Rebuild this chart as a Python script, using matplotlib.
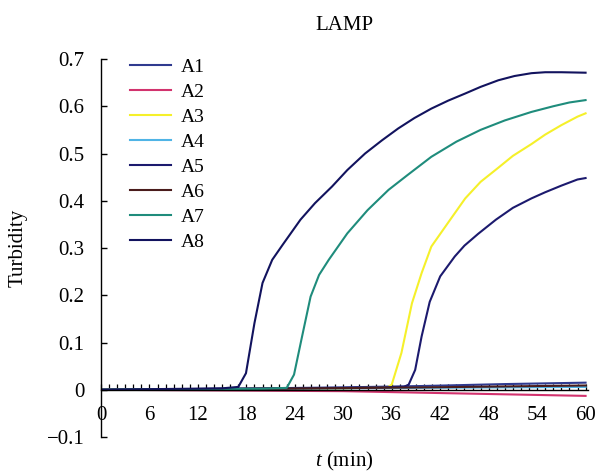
import matplotlib
matplotlib.use("Agg")
import matplotlib.pyplot as plt
from matplotlib.ticker import MultipleLocator

plt.rcParams["font.family"] = ["Liberation Serif", "DejaVu Serif"]
plt.rcParams["mathtext.fontset"] = "custom"
plt.rcParams["mathtext.it"] = "Liberation Serif:italic"
plt.rcParams["mathtext.rm"] = "Liberation Serif"

# Turbidity readings, time in minutes
t_a1 = [0, 10, 20, 30, 40, 50, 60]
y_a1 = [0.0, 0.001, 0.003, 0.005, 0.008, 0.012, 0.015]

t_a2 = [0, 20, 30, 36, 42, 48, 54, 60]
y_a2 = [0.0, -0.002, -0.003, -0.005, -0.007, -0.009, -0.011, -0.013]

t_a3 = [0, 30, 35.5, 36.0, 37.2, 38.5, 39.7, 40.9, 43.2, 45.1, 47, 49.2, 51, 53.3, 55, 57, 59, 60]
y_a3 = [0.0, 0.003, 0.005, 0.011, 0.078, 0.183, 0.247, 0.303, 0.359, 0.405, 0.44, 0.47, 0.495, 0.52, 0.54, 0.56, 0.578, 0.585]

t_a4 = [0, 20, 40, 60]
y_a4 = [0.0, 0.002, 0.004, 0.006]

t_a5 = [0, 30, 37.5, 38.1, 38.9, 39.7, 40.7, 42.0, 43.8, 45, 46.7, 48.9, 51, 53.3, 55, 57, 59, 60]
y_a5 = [0.0, 0.004, 0.006, 0.011, 0.042, 0.113, 0.186, 0.24, 0.282, 0.305, 0.33, 0.36, 0.385, 0.405, 0.418, 0.432, 0.445, 0.448]

t_a6 = [0, 20, 40, 60]
y_a6 = [0.0, 0.002, 0.005, 0.009]

t_a7 = [0, 20, 23.0, 23.9, 24.9, 25.95, 27.0, 28.2, 30.5, 33, 35.6, 38, 40.9, 44, 47, 50, 53.3, 56, 58, 60]
y_a7 = [0.0, 0.002, 0.004, 0.032, 0.113, 0.197, 0.243, 0.275, 0.331, 0.38, 0.423, 0.455, 0.493, 0.525, 0.55, 0.57, 0.588, 0.6, 0.608, 0.613]

t_a8 = [0, 15, 17.0, 17.95, 19.0, 20.0, 21.2, 22.5, 24.7, 26.5, 28.6, 30.5, 32.7, 34.8, 36.8, 38.8, 40.9, 43, 45.1, 47, 49.2, 51.2, 53.3, 55, 57, 60]
y_a8 = [0.0, 0.003, 0.006, 0.035, 0.141, 0.226, 0.275, 0.307, 0.36, 0.395, 0.43, 0.465, 0.5, 0.528, 0.553, 0.575, 0.595, 0.612, 0.627, 0.641, 0.655, 0.664, 0.67, 0.672, 0.672, 0.671]

series = [
    ("A1", t_a1, y_a1, "#2f3a8f"),
    ("A2", t_a2, y_a2, "#d2336e"),
    ("A3", t_a3, y_a3, "#f5f02a"),
    ("A4", t_a4, y_a4, "#4fb4e6"),
    ("A5", t_a5, y_a5, "#1c1a6e"),
    ("A6", t_a6, y_a6, "#4a1c1c"),
    ("A7", t_a7, y_a7, "#1f8c7c"),
    ("A8", t_a8, y_a8, "#12135e"),
]

fig = plt.figure(figsize=(6.01, 4.73), dpi=100)
ax = fig.add_axes([101 / 601, 1 - 437 / 473, 487 / 601, 378 / 473])

for name, t, y, c in series:
    ax.plot(t, y, color=c, lw=1.5, label=name)

ax.set_xlim(0, 60.3)
ax.set_ylim(-0.1, 0.7)

ax.spines["top"].set_visible(False)
ax.spines["right"].set_visible(False)
ax.spines["bottom"].set_position(("data", 0))
ax.spines["left"].set_linewidth(1.0)
ax.spines["bottom"].set_linewidth(1.0)

ax.xaxis.set_major_locator(MultipleLocator(6))
ax.xaxis.set_minor_locator(MultipleLocator(1))
ax.tick_params(axis="x", which="both", direction="in", length=4, width=0.9, pad=12, labelsize=15)
ax.tick_params(axis="y", direction="in", length=4, width=1.0, pad=12, labelsize=15)
ax.set_yticks([-0.1, 0, 0.1, 0.2, 0.3, 0.4, 0.5, 0.6, 0.7])
ax.set_yticklabels(["\u22120.1", "0", "0.1", "0.2", "0.3", "0.4", "0.5", "0.6", "0.7"])

ax.set_title("LAMP", fontsize=15, pad=21)
ax.set_ylabel("Turbidity", fontsize=15)
ax.yaxis.set_label_coords(-0.15, 0.5)
ax.set_xlabel("$t$ (min)", fontsize=15)
ax.xaxis.set_label_coords(0.5, -0.033)

ax.legend(loc="upper left", bbox_to_anchor=(0.06, 1.002), frameon=False, fontsize=14,
          handlelength=2.1, handletextpad=0.5, labelspacing=0.38, borderpad=0, borderaxespad=0)

fig.savefig("out.png", dpi=100)
